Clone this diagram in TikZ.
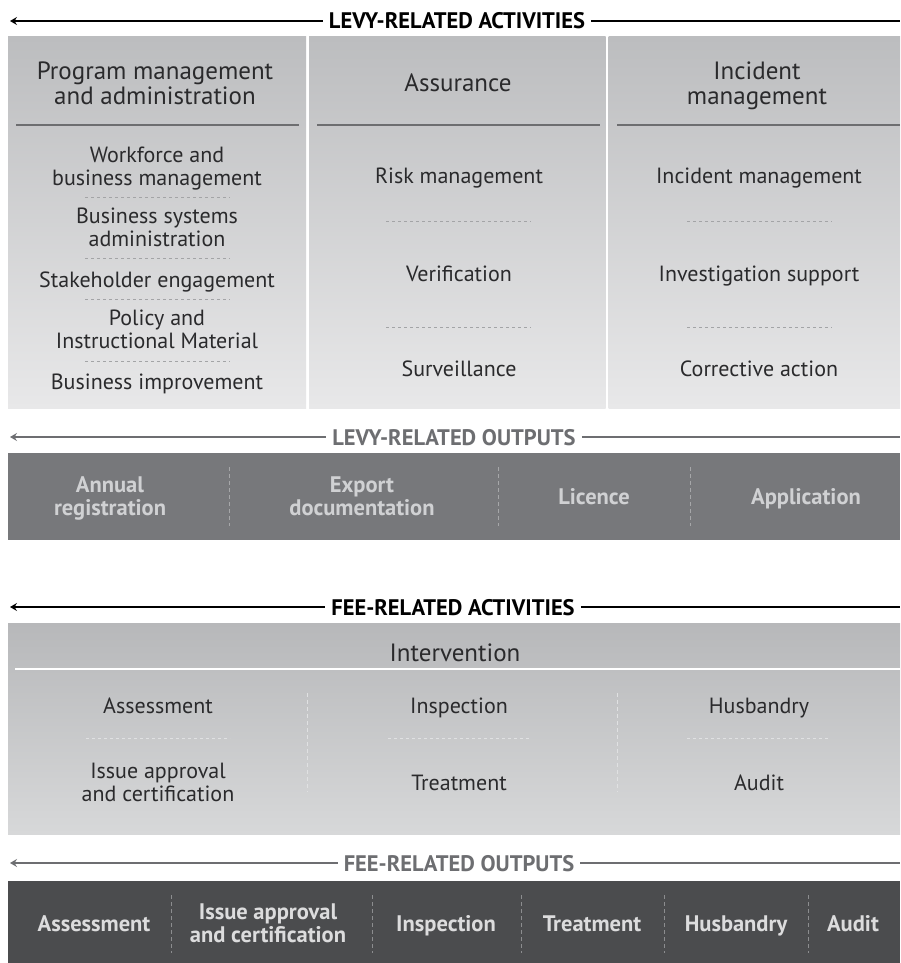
\documentclass[tikz,border=0pt]{standalone}
\usepackage{fontspec}
\setmainfont{PT Sans}
\usetikzlibrary{arrows.meta}
\definecolor{boxtop}{HTML}{BCBDBF}
\definecolor{boxbot}{HTML}{E8E8E9}
\definecolor{hdrline}{HTML}{6D6E70}
\definecolor{dashgray}{HTML}{A3A4A6}
\definecolor{outgray}{HTML}{6D6E71}
\definecolor{levyband}{HTML}{77787B}
\definecolor{levytext}{HTML}{D0D1D3}
\definecolor{levydash}{HTML}{A6A7A9}
\definecolor{feeband}{HTML}{4B4C4E}
\definecolor{feetext}{HTML}{DCDCDD}
\definecolor{feebanddash}{HTML}{8C8D8F}
\definecolor{feetop}{HTML}{B7B8BA}
\definecolor{feebot}{HTML}{D7D8D9}
\definecolor{feedash}{HTML}{E0E1E2}
\definecolor{inktext}{HTML}{2A2A2C}
\tikzset{
  item/.style={font=\fontsize{22}{22.5}\selectfont, text=inktext, align=center,
    text height=15pt, text depth=4pt, inner sep=0pt, yshift=-2.5pt},
  itemtwo/.style={item, text height=37.5pt},
  colhead/.style={font=\fontsize{25}{24.5}\selectfont, text=inktext, align=center,
    text height=17pt, text depth=5pt, inner sep=0pt, yshift=-2pt},
  colheadtwo/.style={colhead, text height=41.5pt},
  sechead/.style={font=\bfseries\fontsize{22.5}{24}\selectfont, inner xsep=6pt, inner ysep=0pt,
    text height=16pt, text depth=4pt},
  secline/.style={line width=2pt},
  secarrow/.style={line width=2pt, {Stealth[length=7pt,width=8pt,inset=2.5pt]}-},
  outitem/.style={font=\bfseries\fontsize{22.5}{23}\selectfont, align=center,
    text height=15pt, text depth=4pt, inner sep=0pt, yshift=-2.5pt},
  outitemtwo/.style={outitem, text height=38pt},
  hdash/.style={dash pattern=on 3pt off 3pt, line width=0.9pt},
  vdash/.style={dash pattern=on 4pt off 3pt, line width=0.9pt},
}
\begin{document}
\begin{tikzpicture}[x=1pt,y=-1pt]
\useasboundingbox (0,0) rectangle (900,963);
\fill[white] (0,0) rectangle (900,963);

% ===== LEVY-RELATED ACTIVITIES header =====
\coordinate (a1l) at (10,21);
\coordinate (a1r) at (900,21);
\node[sechead, text=black] (h1) at (457,23) {LEVY-RELATED ACTIVITIES};
\draw[secarrow, black] (a1l) -- (a1l -| h1.west);
\draw[secline, black] (a1r -| h1.east) -- (a1r);

% columns
\fill[top color=boxtop, bottom color=boxbot] (8,37) rectangle (306,408);
\fill[top color=boxtop, bottom color=boxbot] (309,37) rectangle (605.5,408);
\fill[top color=boxtop, bottom color=boxbot] (608.5,37) rectangle (900,408);

\node[colheadtwo] (c1) at (155,84) {Program management\\and administration};
\node[colhead] (c2) at (458,84) {Assurance};
\node[colheadtwo] (c3) at (757,84) {Incident\\management};

\draw[hdrline, line width=1.5pt] (16,125) -- (299,125);
\draw[hdrline, line width=1.5pt] (317,125) -- (600,125);
\draw[hdrline, line width=1.5pt] (617,125) -- (900,125);

% column 1 items
\node[itemtwo] (p1) at (157,166) {Workforce and\\business management};
\node[itemtwo] (p2) at (157,227) {Business systems\\administration};
\node[item] (p3) at (157,279) {Stakeholder engagement};
\node[itemtwo] (p4) at (157,329) {Policy and\\Instructional Material};
\node[item] (p5) at (157,381) {Business improvement};
\foreach \yy in {197,258,299,361}
  \draw[hdash, dashgray] (85,\yy) -- (230,\yy);

% column 2 items
\node[item] (r1) at (459,175) {Risk management};
\node[item] (r2) at (459,273) {Verification};
\node[item] (r3) at (459,368) {Surveillance};
% column 3 items
\node[item] (i1) at (759,175) {Incident management};
\node[item] (i2) at (759,273) {Investigation support};
\node[item] (i3) at (759,368) {Corrective action};
\foreach \yy in {221,327}{
  \draw[hdash, dashgray] (386,\yy) -- (531,\yy);
  \draw[hdash, dashgray] (687,\yy) -- (832,\yy);
}

% ===== LEVY-RELATED OUTPUTS =====
\coordinate (a2l) at (10,437);
\coordinate (a2r) at (900,437);
\node[sechead, text=outgray] (h2) at (454,439) {LEVY-RELATED OUTPUTS};
\draw[secarrow, outgray] (a2l) -- (a2l -| h2.west);
\draw[secline, outgray] (a2r -| h2.east) -- (a2r);

\fill[levyband] (8,453) rectangle (900,540);
\foreach \xx in {229,498,690}
  \draw[vdash, levydash] (\xx,467) -- (\xx,526);
\node[outitemtwo, text=levytext] (o1) at (110,496) {Annual\\registration};
\node[outitemtwo, text=levytext] (o2) at (362,496) {Export\\documentation};
\node[outitem, text=levytext] (o3) at (594,496) {Licence};
\node[outitem, text=levytext] (o4) at (806,496) {Application};

% ===== FEE-RELATED ACTIVITIES =====
\coordinate (a3l) at (10,607);
\coordinate (a3r) at (900,607);
\node[sechead, text=black] (h3) at (453,609) {FEE-RELATED ACTIVITIES};
\draw[secarrow, black] (a3l) -- (a3l -| h3.west);
\draw[secline, black] (a3r -| h3.east) -- (a3r);

\fill[top color=feetop, bottom color=feebot] (8,623) rectangle (900,834);
\draw[white, line width=2pt] (15,669) -- (900,669);
\node[colhead] (iv) at (455,653) {Intervention};

\foreach \xx in {307,617}
  \draw[vdash, feedash] (\xx,693) -- (\xx,792);
\node[item] (f1) at (158,705) {Assessment};
\node[item] (f2) at (459,705) {Inspection};
\node[item] (f3) at (759,705) {Husbandry};
\draw[hdash, feedash] (86,738) -- (230,738);
\draw[hdash, feedash] (388,738) -- (529,738);
\draw[hdash, feedash] (687,738) -- (830,738);
\node[itemtwo] (f4) at (158,782) {Issue approval\\and certification};
\node[item] (f5) at (459,782) {Treatment};
\node[item] (f6) at (759,782) {Audit};

% ===== FEE-RELATED OUTPUTS =====
\coordinate (a4l) at (10,863);
\coordinate (a4r) at (900,863);
\node[sechead, text=outgray] (h4) at (459,865) {FEE-RELATED OUTPUTS};
\draw[secarrow, outgray] (a4l) -- (a4l -| h4.west);
\draw[secline, outgray] (a4r -| h4.east) -- (a4r);

\fill[feeband] (8,881) rectangle (900,963);
\foreach \xx in {171,372,521,664,808}
  \draw[vdash, feebanddash] (\xx,895) -- (\xx,953);
\node[outitem, text=feetext] (g1) at (94,923) {Assessment};
\node[outitemtwo, text=feetext] (g2) at (268,923) {Issue approval\\and certification};
\node[outitem, text=feetext] (g3) at (446,923) {Inspection};
\node[outitem, text=feetext] (g4) at (592,923) {Treatment};
\node[outitem, text=feetext] (g5) at (736,923) {Husbandry};
\node[outitem, text=feetext] (g6) at (853,923) {Audit};
\end{tikzpicture}
\end{document}
